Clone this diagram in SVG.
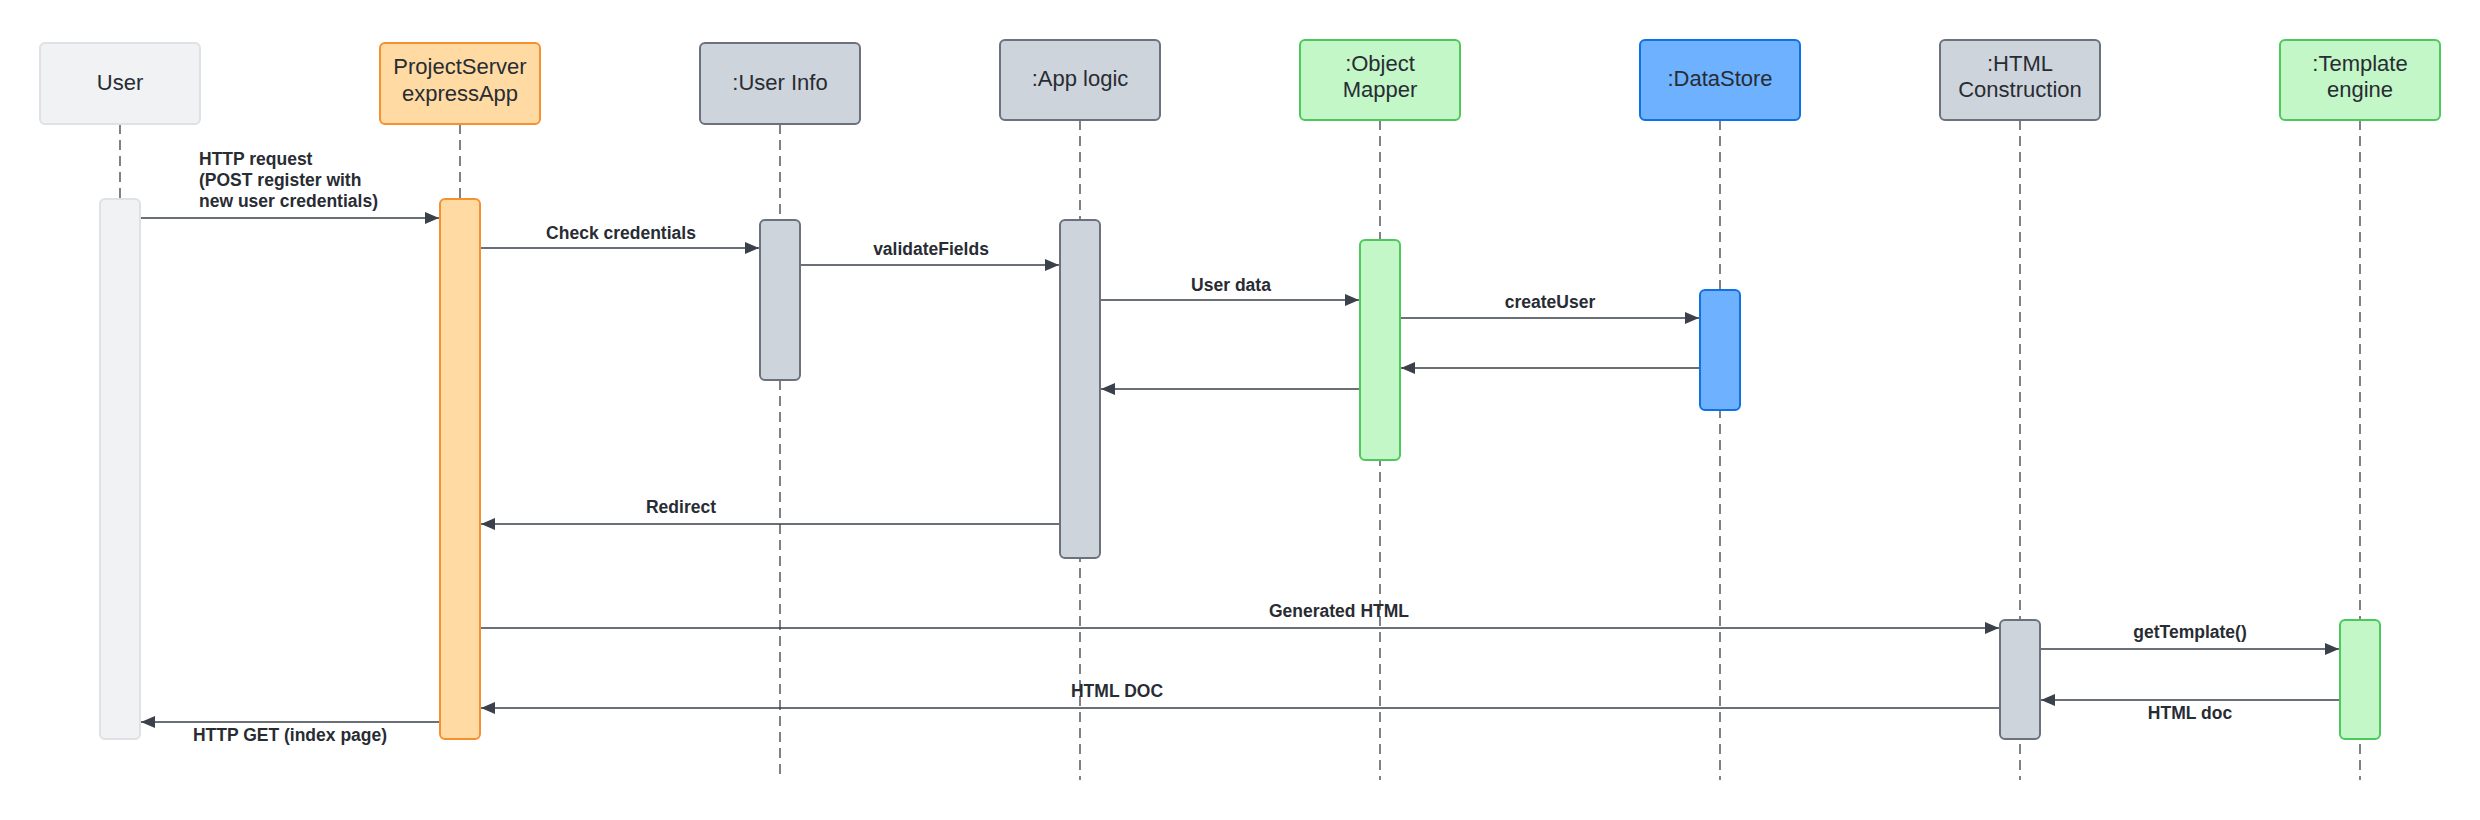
<svg xmlns="http://www.w3.org/2000/svg" width="2480" height="820" viewBox="0 0 2480 820">
<defs>
<marker id="arr" viewBox="0 0 14 12" refX="14" refY="6" markerWidth="14" markerHeight="12" markerUnits="userSpaceOnUse" orient="auto">
<path d="M0,0 L14,6 L0,12 Z" fill="#3A414A"/>
</marker>
</defs>
<style>
.hdr{font-family:"Liberation Sans",Arial,sans-serif;font-size:22px;fill:#282C33;text-anchor:middle}
.lbl{font-family:"Liberation Sans",Arial,sans-serif;font-size:17.5px;font-weight:bold;fill:#282C33;text-anchor:middle}
.life{stroke:#3A414A;stroke-width:1.3;stroke-dasharray:10 6;fill:none}
.msg{stroke:#3A414A;stroke-width:1.6;fill:none;marker-end:url(#arr)}
.gray{fill:#F1F2F4;stroke:#DFE1E4;stroke-width:2}
.orange{fill:#FFDBA3;stroke:#F5922F;stroke-width:2}
.slate{fill:#CED4DB;stroke:#6B727E;stroke-width:2}
.green{fill:#C3F7C8;stroke:#4CC95A;stroke-width:2}
.blue{fill:#6DB1FF;stroke:#1071E5;stroke-width:2}
</style>
<rect width="2480" height="820" fill="#FFFFFF"/>
<g id="lifelines">
<line class="life" x1="120" y1="124" x2="120" y2="199"/>
<line class="life" x1="460" y1="124" x2="460" y2="199"/>
<line class="life" x1="780" y1="124" x2="780" y2="780"/>
<line class="life" x1="1080" y1="120" x2="1080" y2="780"/>
<line class="life" x1="1380" y1="120" x2="1380" y2="780"/>
<line class="life" x1="1720" y1="120" x2="1720" y2="780"/>
<line class="life" x1="2020" y1="120" x2="2020" y2="780"/>
<line class="life" x1="2360" y1="120" x2="2360" y2="780"/>
</g>
<g id="user">
<rect class="gray" x="40" y="43" width="160" height="81" rx="5"/>
<text class="hdr" x="120" y="90">User</text>
<rect class="gray" x="100" y="199" width="40" height="540" rx="5"/>
</g>
<g id="projectserver">
<rect class="orange" x="380" y="43" width="160" height="81" rx="5"/>
<text class="hdr" x="460" y="74">ProjectServer</text>
<text class="hdr" x="460" y="101">expressApp</text>
<rect class="orange" x="440" y="199" width="40" height="540" rx="5"/>
</g>
<g id="userinfo">
<rect class="slate" x="700" y="43" width="160" height="81" rx="5"/>
<text class="hdr" x="780" y="90">:User Info</text>
<rect class="slate" x="760" y="220" width="40" height="160" rx="5"/>
</g>
<g id="applogic">
<rect class="slate" x="1000" y="40" width="160" height="80" rx="5"/>
<text class="hdr" x="1080" y="86">:App logic</text>
<rect class="slate" x="1060" y="220" width="40" height="338" rx="5"/>
</g>
<g id="objectmapper">
<rect class="green" x="1300" y="40" width="160" height="80" rx="5"/>
<text class="hdr" x="1380" y="71">:Object</text>
<text class="hdr" x="1380" y="97">Mapper</text>
<rect class="green" x="1360" y="240" width="40" height="220" rx="5"/>
</g>
<g id="datastore">
<rect class="blue" x="1640" y="40" width="160" height="80" rx="5"/>
<text class="hdr" x="1720" y="86">:DataStore</text>
<rect class="blue" x="1700" y="290" width="40" height="120" rx="5"/>
</g>
<g id="htmlconstruction">
<rect class="slate" x="1940" y="40" width="160" height="80" rx="5"/>
<text class="hdr" x="2020" y="71">:HTML</text>
<text class="hdr" x="2020" y="97">Construction</text>
<rect class="slate" x="2000" y="620" width="40" height="119" rx="5"/>
</g>
<g id="templateengine">
<rect class="green" x="2280" y="40" width="160" height="80" rx="5"/>
<text class="hdr" x="2360" y="71">:Template</text>
<text class="hdr" x="2360" y="97">engine</text>
<rect class="green" x="2340" y="620" width="40" height="119" rx="5"/>
</g>
<g id="connectors">
<line class="msg" x1="141" y1="218" x2="439" y2="218"/>
<line class="msg" x1="481" y1="248" x2="759" y2="248"/>
<line class="msg" x1="801" y1="265" x2="1059" y2="265"/>
<line class="msg" x1="1101" y1="300" x2="1359" y2="300"/>
<line class="msg" x1="1401" y1="318" x2="1699" y2="318"/>
<line class="msg" x1="1699" y1="368" x2="1401" y2="368"/>
<line class="msg" x1="1359" y1="389" x2="1101" y2="389"/>
<line class="msg" x1="1059" y1="524" x2="481" y2="524"/>
<line class="msg" x1="481" y1="628" x2="1999" y2="628"/>
<line class="msg" x1="2041" y1="649" x2="2339" y2="649"/>
<line class="msg" x1="2339" y1="700" x2="2041" y2="700"/>
<line class="msg" x1="1999" y1="708" x2="481" y2="708"/>
<line class="msg" x1="439" y1="722" x2="141" y2="722"/>
</g>
<g id="labels">
<text class="lbl" style="text-anchor:start" x="199" y="165">HTTP request</text>
<text class="lbl" style="text-anchor:start" x="199" y="186">(POST register with</text>
<text class="lbl" style="text-anchor:start" x="199" y="207">new user credentials)</text>
<text class="lbl" x="621" y="239">Check credentials</text>
<text class="lbl" x="931" y="255">validateFields</text>
<text class="lbl" x="1231" y="291">User data</text>
<text class="lbl" x="1550" y="308">createUser</text>
<text class="lbl" x="681" y="513">Redirect</text>
<text class="lbl" x="1339" y="617">Generated HTML</text>
<text class="lbl" x="2190" y="638">getTemplate()</text>
<text class="lbl" x="2190" y="719">HTML doc</text>
<text class="lbl" x="1117" y="697">HTML DOC</text>
<text class="lbl" x="290" y="741">HTTP GET (index page)</text>
</g>
</svg>
